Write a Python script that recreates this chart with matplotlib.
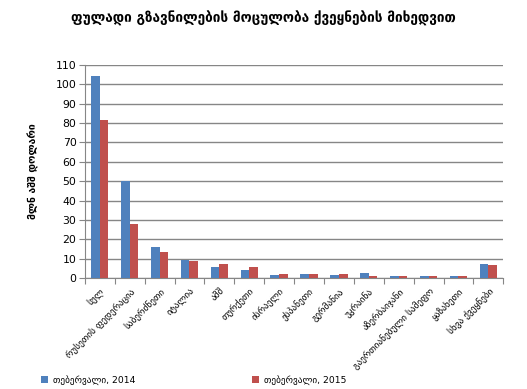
import matplotlib
matplotlib.use("Agg")
import matplotlib.pyplot as plt
import numpy as np

categories = ["სულ", "რუსეთის ფედერაცია", "საბერძნეთი", "იტალია", "აშშ", "თურქეთი",
              "ისრაელი", "ესპანეთი", "გერმანია", "უკრაინა", "აზერბაიჯანი",
              "გაერთიანებული სამეფო", "ყაზახეთი", "სხვა ქვეყნები"]
values_2014 = [104.5, 50.0, 16.0, 9.3, 5.7, 4.1, 1.6, 2.1, 1.6, 2.6, 1.0, 1.0, 1.0, 7.2]
values_2015 = [81.7, 27.9, 13.4, 8.8, 7.2, 5.7, 2.1, 2.1, 2.1, 1.0, 1.0, 1.0, 1.0, 6.7]
series_names = ["თებერვალი, 2014", "თებერვალი, 2015"]
title = "ფულადი გზავნილების მოცულობა ქვეყნების მიხედვით"
ylabel = "მლნ აშშ დოლარი"
yticks = list(range(0, 111, 10))

plt.rcParams['font.family'] = ['DejaVu Sans']
fig = plt.figure(figsize=(5.27, 3.89), dpi=100)
ax = fig.add_axes([0.161, 0.285, 0.794, 0.548])

x = np.arange(len(categories))
w = 0.29
ax.bar(x - w/2, values_2014, w, color="#4F81BD", label=series_names[0], zorder=3)
ax.bar(x + w/2, values_2015, w, color="#C0504D", label=series_names[1], zorder=3)

ax.set_xlim(-0.5, len(categories) - 0.5)
ax.set_ylim(0, 110)
ax.set_yticks(yticks)
ax.yaxis.grid(True, color="#868686", linewidth=1.0, zorder=0)
ax.tick_params(axis='y', labelsize=7.8, length=4, color="#868686", pad=2)
ax.set_xticks(np.arange(len(categories) + 1) - 0.5, minor=False)
ax.set_xticklabels([])
ax.set_xticks(x, minor=True)
ax.set_xticklabels(categories, minor=True, rotation=45, ha='right', rotation_mode='anchor', fontsize=6.7)
ax.tick_params(axis='x', which='major', length=4, color="#868686")
ax.tick_params(axis='x', which='minor', length=0, pad=6)
for s in ['top', 'right']:
    ax.spines[s].set_visible(False)
for s in ['left', 'bottom']:
    ax.spines[s].set_color("#868686")

ax.set_ylabel(ylabel, fontsize=7.5, fontweight='bold', labelpad=12)
fig.text(0.5, 0.953, title, ha='center', va='center', fontsize=9.8, fontweight='bold')

fig.legend(loc='lower left', bbox_to_anchor=(0.062, -0.012), ncol=2, frameon=False,
           fontsize=6.7, handlelength=0.8, handleheight=0.8, handletextpad=0.5, columnspacing=12.5)

fig.savefig("out.png", dpi=100)
